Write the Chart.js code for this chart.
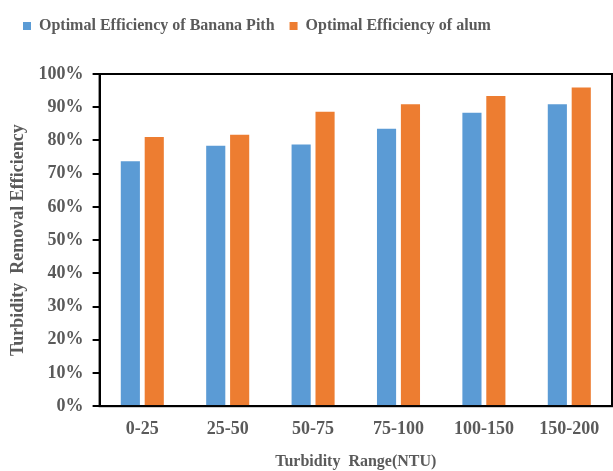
<!DOCTYPE html>
<html>
<head>
<meta charset="utf-8">
<script src="https://cdn.jsdelivr.net/npm/chart.js@4"></script>
<style>
  html, body { margin: 0; padding: 0; background: #fff; }
  #wrap { width: 613px; height: 471px; }
</style>
</head>
<body>
<div id="wrap"><canvas id="chart"></canvas></div>
<script>
// turbidity ranges (NTU) and removal efficiency per coagulant, in %
const ranges = ['0-25', '25-50', '50-75', '75-100', '100-150', '150-200'];
const bananaPith = [73.7, 78.4, 78.8, 83.5, 88.3, 90.9];
const alum = [81.0, 81.7, 88.6, 90.9, 93.4, 95.9];

const TEXT = '#5a5a5a';
const FONT = '"Liberation Serif", "Times New Roman", serif';

// closed frame around the plot area
const frame = {
  id: 'frame',
  afterDatasetsDraw(chart) {
    const { ctx, chartArea: a } = chart;
    ctx.save();
    ctx.strokeStyle = '#000';
    ctx.lineWidth = 2;
    ctx.strokeRect(a.left, a.top, a.right - a.left, a.bottom - a.top);
    ctx.restore();
  }
};

// extra space under the legend
const legendGap = {
  id: 'legendGap',
  beforeInit(chart) {
    const fit = chart.legend.fit;
    chart.legend.fit = function () {
      fit.bind(chart.legend)();
      this.height += 30;
    };
  }
};

new Chart(document.getElementById('chart'), {
  type: 'bar',
  data: {
    labels: ranges,
    datasets: [
      { label: 'Optimal Efficiency of Banana Pith', data: bananaPith, backgroundColor: '#5B9BD5' },
      { label: 'Optimal Efficiency of alum', data: alum, backgroundColor: '#ED7D31' }
    ]
  },
  options: {
    responsive: true,
    maintainAspectRatio: false,
    animation: false,
    datasets: { bar: { categoryPercentage: 0.56, barPercentage: 0.8 } },
    layout: { padding: { left: 8, right: 1, top: 3, bottom: 0 } },
    plugins: {
      tooltip: { enabled: false },
      legend: {
        position: 'top',
        align: 'start',
        labels: {
          color: TEXT,
          font: { family: FONT, size: 16, weight: 'bold' },
          boxWidth: 8, boxHeight: 8, padding: 15
        }
      }
    },
    scales: {
      x: {
        grid: { display: false, drawTicks: false },
        border: { color: '#000', width: 2 },
        ticks: { color: TEXT, padding: 12, font: { family: FONT, size: 18, weight: 'bold' } },
        title: {
          display: true, text: 'Turbidity  Range(NTU)', color: TEXT, padding: { top: 0, bottom: 0 },
          font: { family: FONT, size: 16, weight: 'bold' }
        }
      },
      y: {
        min: 0, max: 100,
        grid: { drawOnChartArea: false, drawTicks: true, tickLength: 7, color: '#000', lineWidth: 2 },
        border: { color: '#000', width: 2 },
        ticks: {
          stepSize: 10, color: TEXT, padding: 9,
          font: { family: FONT, size: 18, weight: 'bold' },
          callback: v => v + '%'
        },
        title: {
          display: true, text: 'Turbidity  Removal Efficiency', color: TEXT, padding: { top: 0, bottom: 0 },
          font: { family: FONT, size: 18, weight: 'bold' }
        }
      }
    }
  },
  plugins: [frame, legendGap]
});
</script>
</body>
</html>
